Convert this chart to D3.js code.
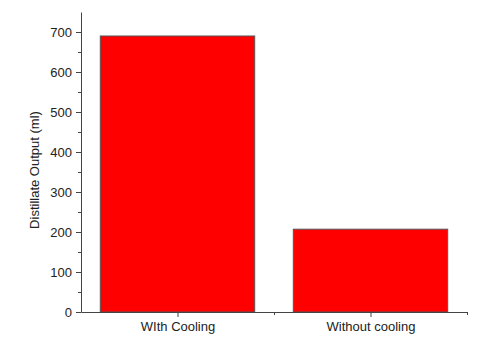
<!DOCTYPE html>
<html>
<head>
<meta charset="utf-8">
<script src="https://cdn.jsdelivr.net/npm/d3@7"></script>
<style>
  body { margin: 0; background: #fff; }
  text { font-family: "Liberation Sans", Arial, sans-serif; fill: #222; }
  .axis path, .axis line { stroke: #444; }
</style>
</head>
<body>
<div id="chart"></div>
<script>
// data
var categories = ["WIth Cooling", "Without cooling"];
var outputs = [690, 207];
var yTicks = [0, 100, 200, 300, 400, 500, 600, 700];

var width = 480, height = 343;
var margin = {top: 12, right: 13, bottom: 31, left: 81};

var svg = d3.select("#chart").append("svg")
    .attr("width", width)
    .attr("height", height);

var g = svg.append("g")
    .attr("transform", "translate(" + margin.left + "," + margin.top + ")");

var w = width - margin.left - margin.right;
var h = height - margin.top - margin.bottom;

// categories sit at 1, 2 on a linear axis from 0.5 to 2.5
var x = d3.scaleLinear().domain([0.5, categories.length + 0.5]).range([0, w]);
var y = d3.scaleLinear().domain([0, 750]).range([h, 0]);
var barWidth = 0.8;

// bars
g.selectAll(".bar")
    .data(outputs)
    .enter()
    .append("rect")
    .attr("class", "bar")
    .attr("x", function(d, i) { return x(i + 1 - barWidth / 2); })
    .attr("width", function() { return x(1 + barWidth / 2) - x(1 - barWidth / 2); })
    .attr("y", function(d) { return y(d); })
    .attr("height", function(d) { return h - y(d); })
    .attr("fill", "#ff0000")
    .attr("stroke", "#555")
    .attr("stroke-width", 1);

// y axis: major + minor ticks
var yMinor = d3.range(50, 750, 100);
g.append("g")
    .attr("class", "axis")
    .call(d3.axisLeft(y).tickValues(yMinor).tickSize(3).tickFormat(""))
    .select(".domain").remove();

var yAxis = g.append("g")
    .attr("class", "axis")
    .call(d3.axisLeft(y).tickValues(yTicks).tickSize(5).tickSizeOuter(0).tickPadding(4));
yAxis.selectAll("text").style("font-size", "13px").style("fill", "#222");

// x axis
var xMinor = d3.range(1.5, categories.length + 1, 1);
g.append("g")
    .attr("class", "axis")
    .attr("transform", "translate(0," + h + ")")
    .call(d3.axisBottom(x).tickValues(xMinor).tickSize(3).tickFormat(""))
    .select(".domain").remove();

var xAxis = g.append("g")
    .attr("class", "axis")
    .attr("transform", "translate(0," + h + ")")
    .call(d3.axisBottom(x)
        .tickValues(d3.range(1, categories.length + 1))
        .tickSize(5).tickSizeOuter(0).tickPadding(5)
        .tickFormat(function(d) { return categories[d - 1]; }));
xAxis.selectAll("text").style("font-size", "13px").style("fill", "#222");

// y axis label
svg.append("text")
    .attr("transform", "translate(39,170) rotate(-90)")
    .attr("text-anchor", "middle")
    .style("font-size", "13px")
    .text("Distillate Output (ml)");
</script>
</body>
</html>
